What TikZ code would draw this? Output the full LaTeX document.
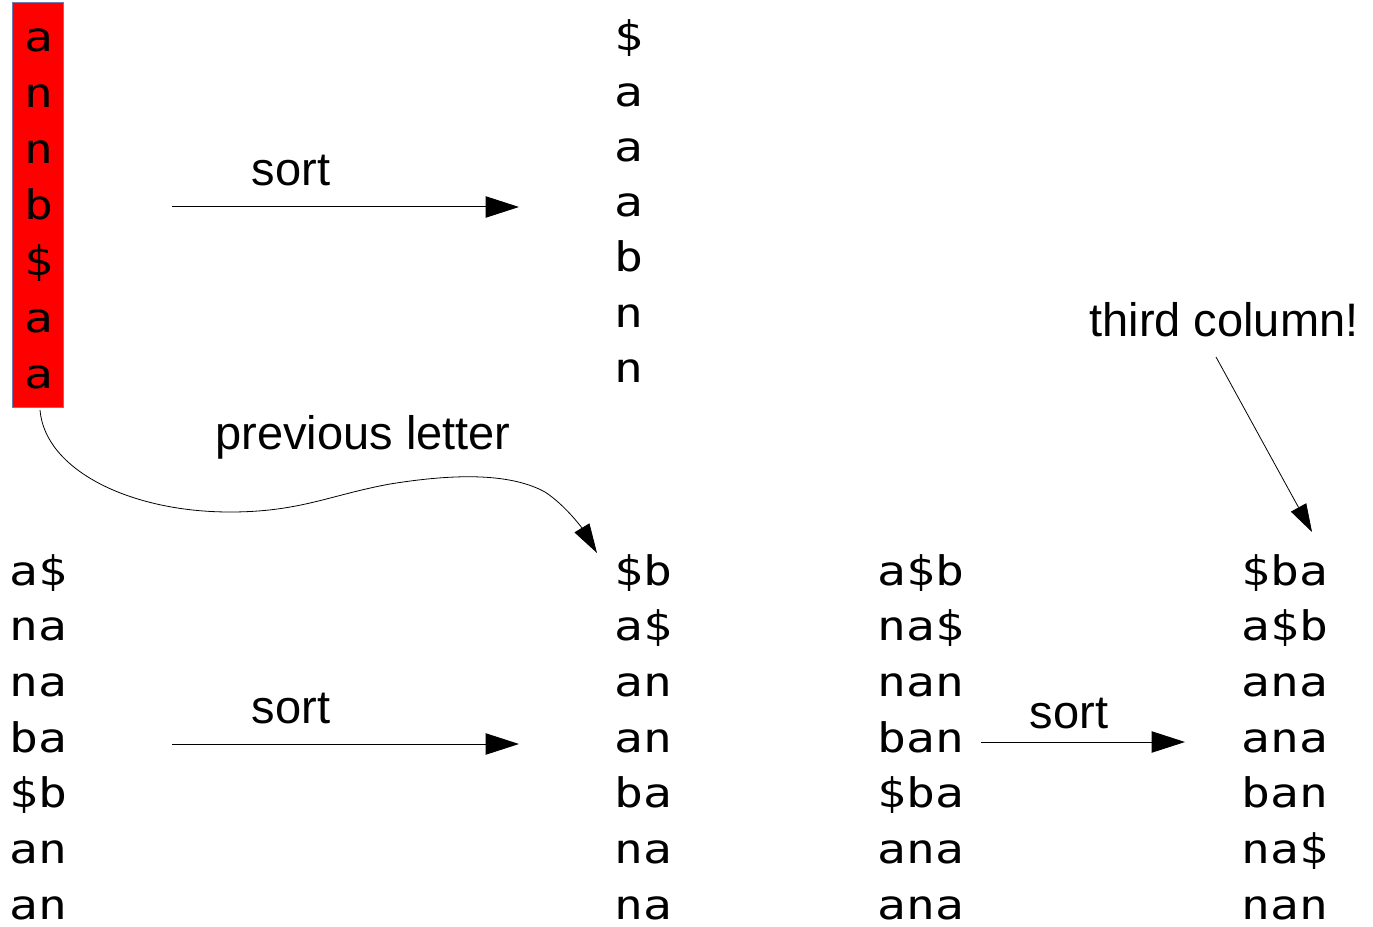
\documentclass[tikz,border=0pt]{standalone}
\usepackage{fontspec}
\setmainfont{Liberation Sans}
\newfontfamily\glyphs[FakeStretch=1.18]{DejaVu Sans Mono}
\usetikzlibrary{arrows.meta}
\definecolor{boxedge}{HTML}{6C7DB3}

\begin{document}
\begin{tikzpicture}[x=0.75pt,y=-0.75pt,
  seq/.style={inner sep=0pt, font=\glyphs\fontsize{30.5}{36}\selectfont},
  lbl/.style={inner sep=0pt, anchor=base, font=\fontsize{35.25}{42}\selectfont},
  flow/.style={line width=0.75pt, -{Triangle[length=25pt,width=16pt]}},
]
\useasboundingbox (0,0) rectangle (1373,927);

% highlighted last column
\node[draw=boxedge, fill=red, line width=0.75pt, inner sep=0pt,
      minimum width=38.25pt, minimum height=303pt] (lastcol) at (37.5,205) {};
\foreach \c [count=\i] in {a,n,n,b,\$,a,a}
  \node[seq, anchor=base] (l\i) at (39,{52+56*(\i-1)}) {\c};

% first column after sorting
\foreach \c [count=\i] in {\$,a,a,a,b,n,n}
  \node[seq, anchor=base] (f\i) at (629,{51+55.2*(\i-1)}) {\c};

% two-character rows
\foreach \s [count=\i] in {a\$,na,na,ba,\$b,an,an}
  \node[seq, anchor=base west] (p\i) at (9,{585+55.7*(\i-1)}) {\s};
\foreach \s [count=\i] in {\$b,a\$,an,an,ba,na,na}
  \node[seq, anchor=base west] (q\i) at (614,{585+55.7*(\i-1)}) {\s};

% three-character rows
\foreach \s [count=\i] in {a\$b,na\$,nan,ban,\$ba,ana,ana}
  \node[seq, anchor=base west] (u\i) at (877,{585+55.7*(\i-1)}) {\s};
\foreach \s [count=\i] in {\$ba,a\$b,ana,ana,ban,na\$,nan}
  \node[seq, anchor=base west] (v\i) at (1241,{585+55.7*(\i-1)}) {\s};

% labels
\node[lbl] (sort1) at (291,186) {sort};
\node[lbl] (sort2) at (291,723) {sort};
\node[lbl] (sort3) at (1069,728) {sort};
\node[lbl] (prev) at (363,449) {previous letter};
\node[lbl] (third) at (1224,336) {third column!};

% arrow end points
\coordinate (a1s) at (172,207);  \coordinate (a1e) at (519,207);
\coordinate (a2s) at (172,744);  \coordinate (a2e) at (519,744);
\coordinate (a3s) at (981,742);  \coordinate (a3e) at (1185,742);
\coordinate (ts) at (1216,357);  \coordinate (te) at (1312,532);
\coordinate (cs) at (40,410);    \coordinate (ce) at (597,553);

\draw[flow] (a1s) -- (a1e);
\draw[flow] (a2s) -- (a2e);
\draw[flow] (a3s) -- (a3e);
\draw[line width=0.6pt, -{Triangle[length=21pt,width=13pt]}] (ts) -- (te);
\draw[line width=0.6pt, -{Triangle[length=22pt,width=13pt]}]
  (cs) .. controls (45,470) and (130,512) .. (230,512)
       .. controls (300,512) and (330,495) .. (390,484)
       .. controls (440,476) and (505,470) .. (545,492)
       .. controls (565,505) and (582,528) .. (ce);
\end{tikzpicture}
\end{document}
